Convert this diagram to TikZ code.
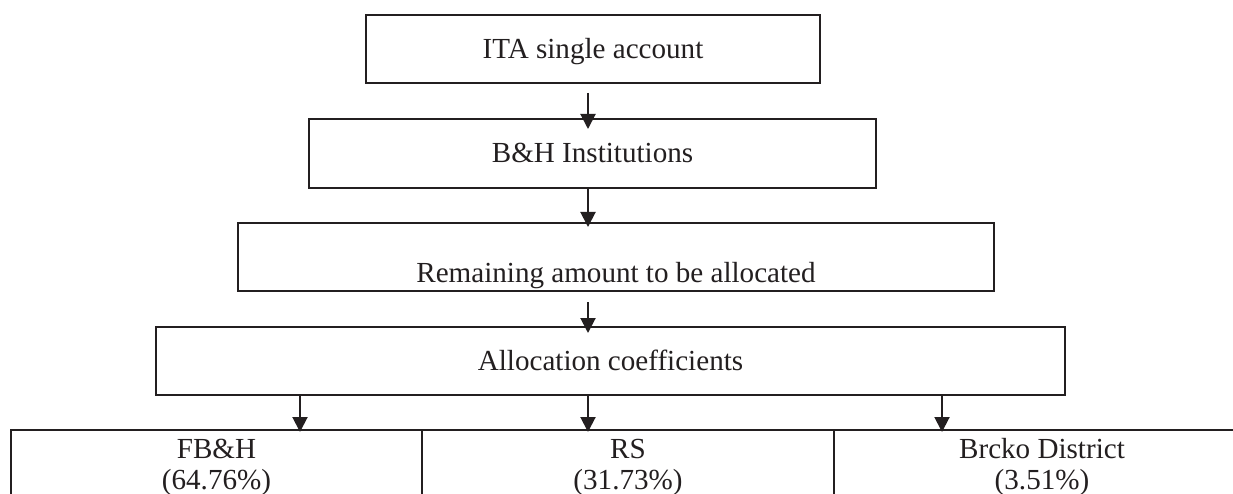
\documentclass[tikz,border=0pt]{standalone}
\usepackage{fontspec}
\setmainfont{Liberation Serif}
\usetikzlibrary{arrows.meta,calc}
\definecolor{ink}{RGB}{35,31,32}
\begin{document}
\begin{tikzpicture}[x=1pt,y=-1pt,
  box/.style={draw=ink, line width=2.2pt, minimum width=#1, minimum height=68pt,
    inner sep=0pt, outer sep=0pt, text=ink, font=\fontsize{29.1}{33}\selectfont,
    text height=19pt, text depth=0pt},
  cell/.style={draw=ink, line width=2.2pt, minimum width=#1, minimum height=76pt,
    inner sep=0pt, outer sep=0pt, anchor=north, align=center, text=ink,
    font=\fontsize{29.1}{31}\selectfont},
  arr/.style={draw=ink, line width=2pt, -{Triangle[length=15pt,width=15pt]}}]
\useasboundingbox (0,0) rectangle (1233,494);
\fill[white] (0,0) rectangle (1233,494);
\node[box=454pt] (ita) at (593,49) {ITA single account};
\node[box=567pt, minimum height=69pt] (bh) at (592.5,153.5) {B\&H Institutions};
\node[box=756pt, text height=50pt] (rem) at (616,257) {Remaining amount to be allocated};
\node[box=909pt, text height=19.5pt] (alloc) at (610.5,361) {Allocation coefficients};
\node[cell=411pt, minimum height=74pt] (fbh) at (216.5,430) {FB\&H\\(64.76\%)};
\node[cell=412pt, minimum height=74pt] (rs) at (628,430) {RS\\(31.73\%)};
\node[cell=416pt, minimum height=74pt] (brcko) at (1042,430) {Brcko District\\(3.51\%)};
\coordinate (ax) at (588,0);
\coordinate (lx) at (300,0);
\coordinate (rx) at (942,0);
\draw[arr] ($(ita.south -| ax)+(0,10)$) -- ($(bh.north -| ax)+(0,10)$);
\draw[arr] (bh.south -| ax) -- ($(rem.north -| ax)+(0,4)$);
\draw[arr] ($(rem.south -| ax)+(0,11)$) -- ($(alloc.north -| ax)+(0,6)$);
\draw[arr] (alloc.south -| lx) -- ($(fbh.north -| lx)+(0,2)$);
\draw[arr] (alloc.south -| ax) -- ($(rs.north -| ax)+(0,2)$);
\draw[arr] (alloc.south -| rx) -- ($(brcko.north -| rx)+(0,2)$);
\end{tikzpicture}
\end{document}
